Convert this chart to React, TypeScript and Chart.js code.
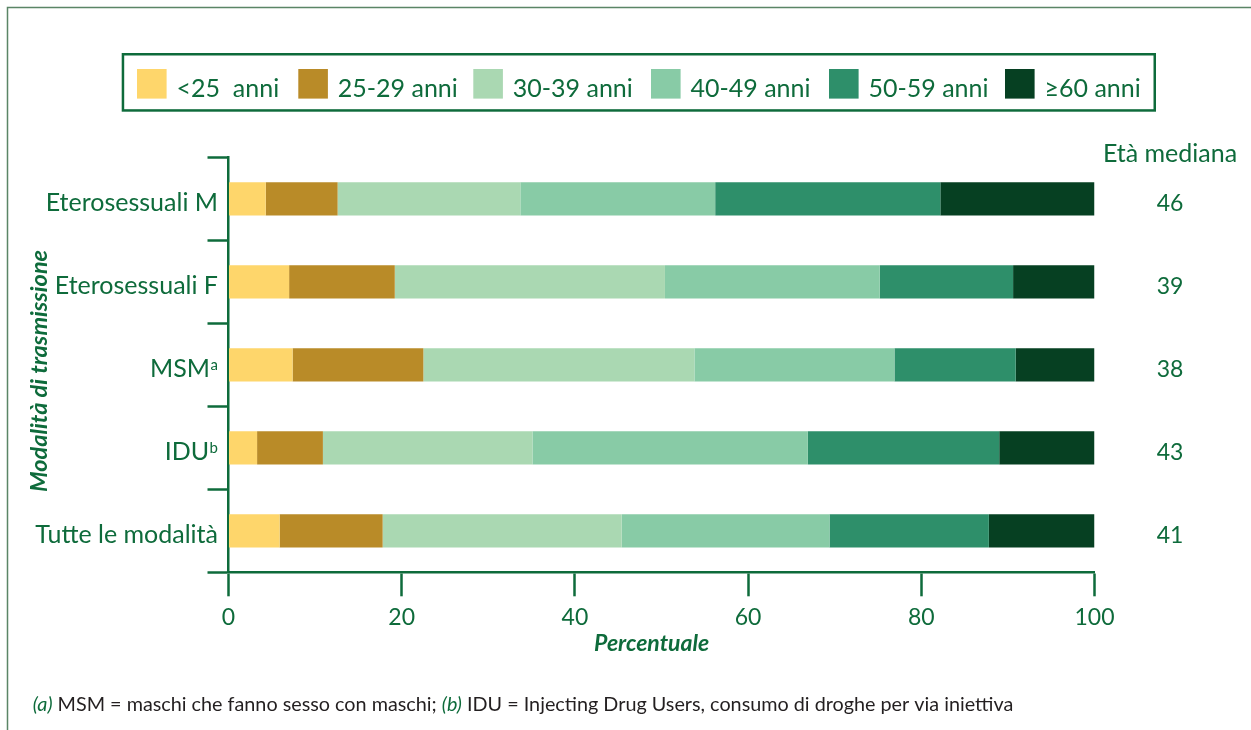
import React, { useEffect, useRef } from 'react';
import { Chart, registerables } from 'chart.js';

Chart.register(...registerables);

// ---------- data ----------
const CATEGORIES = ['Eterosessuali M', 'Eterosessuali F', 'MSM', 'IDU', 'Tutte le modalità'];
const CATEGORY_SUPERSCRIPTS = ['', '', 'a', 'b', ''];
const AGE_GROUPS = ['<25  anni', '25-29 anni', '30-39 anni', '40-49 anni', '50-59 anni', '≥60 anni'];

const UNDER_25 = [4.3, 7.0, 7.4, 3.3, 5.9];
const AGE_25_29 = [8.3, 12.2, 15.1, 7.6, 11.9];
const AGE_30_39 = [21.1, 31.2, 31.3, 24.2, 27.6];
const AGE_40_49 = [22.5, 24.8, 23.1, 31.8, 24.0];
const AGE_50_59 = [26.0, 15.4, 14.0, 22.1, 18.4];
const AGE_60_PLUS = [17.8, 9.4, 9.1, 11.0, 12.2];

const MEDIAN_AGE = [46, 39, 38, 43, 41];
const X_TICKS = [0, 20, 40, 60, 80, 100];

const MEDIAN_HEADER = 'Età mediana';
const Y_TITLE = 'Modalità di trasmissione';
const X_TITLE = 'Percentuale';
const FOOTNOTE = [
  { text: '(a)', note: true },
  { text: ' MSM = maschi che fanno sesso con maschi; ', note: false },
  { text: '(b)', note: true },
  { text: ' IDU = Injecting Drug Users, consumo di droghe per via iniettiva', note: false },
];

// ---------- styles ----------
const SERIES = [UNDER_25, AGE_25_29, AGE_30_39, AGE_40_49, AGE_50_59, AGE_60_PLUS];
const COLORS = ['#FED66B', '#B98B28', '#AAD8B2', '#88CBA6', '#2E8F6A', '#064022'];
const GREEN = '#0e6b3b';
const FRAME = '#5a8566';
const INK = '#231f20';
const FONT = "Lato, 'Open Sans', sans-serif";
const W = 1251;
const H = 730;
const LEGEND_X = [137, 298.3, 473.3, 651, 829, 1005];

const overlay = {
  id: 'overlay',
  afterDraw(chart: any) {
    const { ctx } = chart;
    const ys = chart.scales.y;
    ctx.save();

    // outer frame (left + top)
    ctx.strokeStyle = FRAME;
    ctx.lineWidth = 1.5;
    ctx.beginPath();
    ctx.moveTo(7.5, H);
    ctx.lineTo(7.5, 7.5);
    ctx.lineTo(W, 7.5);
    ctx.stroke();

    // legend box
    ctx.strokeStyle = GREEN;
    ctx.lineWidth = 2.5;
    ctx.strokeRect(122.95, 54.25, 1031.8, 56.2);
    ctx.textAlign = 'left';
    ctx.textBaseline = 'alphabetic';
    ctx.font = `25px ${FONT}`;
    chart.data.datasets.forEach((ds: any, i: number) => {
      const x = LEGEND_X[i];
      ctx.fillStyle = ds.backgroundColor;
      ctx.fillRect(x, 69, 29.6, 29.6);
      ctx.fillStyle = GREEN;
      ctx.fillText(ds.label, x + 39.5, 97.3);
    });

    // category labels
    CATEGORIES.forEach((cat, i) => {
      const cy = ys.getPixelForValue(i);
      const right = 218;
      let supW = 0;
      const sup = CATEGORY_SUPERSCRIPTS[i];
      ctx.fillStyle = GREEN;
      if (sup) {
        ctx.font = `15px ${FONT}`;
        supW = ctx.measureText(sup).width + 0.5;
        ctx.textAlign = 'right';
        ctx.fillText(sup, right, cy + 12.4 - 7.5);
      }
      ctx.font = `25px ${FONT}`;
      ctx.textAlign = 'right';
      ctx.fillText(cat, right - supW, cy + 12.4);
    });

    // median ages
    ctx.textAlign = 'center';
    ctx.font = `25px ${FONT}`;
    ctx.fillText(MEDIAN_HEADER, 1170, 161.7);
    ctx.font = `23px ${FONT}`;
    MEDIAN_AGE.forEach((m, i) => {
      const cy = ys.getPixelForValue(i);
      ctx.fillText(String(m), 1170, cy + 12.2);
    });

    // axis titles
    ctx.font = `italic bold 23px ${FONT}`;
    ctx.fillText(X_TITLE, 651.6, 650.7);
    ctx.save();
    ctx.translate(46.5, 371);
    ctx.rotate(-Math.PI / 2);
    ctx.textAlign = 'center';
    ctx.font = `italic bold 23.5px ${FONT}`;
    ctx.fillText(Y_TITLE, 0, 0);
    ctx.restore();

    // footnote
    let fx = 32.7;
    ctx.textAlign = 'left';
    FOOTNOTE.forEach((seg) => {
      ctx.font = seg.note ? `italic 19.8px ${FONT}` : `19.8px ${FONT}`;
      ctx.fillStyle = seg.note ? GREEN : INK;
      ctx.fillText(seg.text, fx, 710.7);
      fx += ctx.measureText(seg.text).width;
    });

    ctx.restore();
  },
};

export default function App() {
  const ref = useRef<HTMLCanvasElement | null>(null);

  useEffect(() => {
    document.body.style.margin = '0';
    document.documentElement.style.overflow = 'hidden';
    const canvas = ref.current;
    if (!canvas) return;
    const chart = new Chart(canvas, {
      type: 'bar',
      data: {
        labels: CATEGORIES,
        datasets: SERIES.map((values, i) => ({
          label: AGE_GROUPS[i],
          data: values,
          backgroundColor: COLORS[i],
          borderWidth: 0,
          barPercentage: 0.4,
          categoryPercentage: 1,
        })),
      },
      options: {
        indexAxis: 'y',
        responsive: false,
        animation: false,
        devicePixelRatio: 1,
        layout: { padding: { top: 157.3, right: 156.5, bottom: 77.7, left: 0 } },
        plugins: {
          legend: { display: false },
          tooltip: { enabled: false },
        },
        scales: {
          x: {
            stacked: true,
            min: 0,
            max: 100,
            afterFit: (s: any) => {
              s.height = 80;
            },
            afterBuildTicks: (s: any) => {
              s.ticks = X_TICKS.map((v) => ({ value: v }));
            },
            ticks: {
              color: GREEN,
              font: { family: FONT, size: 23 },
              padding: 7,
              maxRotation: 0,
            },
            grid: {
              display: true,
              drawOnChartArea: false,
              drawTicks: true,
              tickLength: 24,
              tickWidth: 2.5,
              tickColor: GREEN,
            },
            border: { display: true, color: GREEN, width: 2.5 },
          },
          y: {
            stacked: true,
            afterFit: (s: any) => {
              s.width = 228.5;
            },
            ticks: { callback: () => '' },
            grid: {
              display: true,
              drawOnChartArea: false,
              drawTicks: true,
              offset: true,
              tickLength: 21,
              tickWidth: 2.5,
              tickColor: GREEN,
            },
            border: { display: true, color: GREEN, width: 2.5 },
          },
        },
      },
      plugins: [overlay],
    });
    return () => chart.destroy();
  }, []);

  return (
    <div style={{ position: 'relative', width: W, height: H, background: '#ffffff' }}>
      <canvas ref={ref} width={W} height={H} style={{ display: 'block', width: W, height: H }} />
    </div>
  );
}
